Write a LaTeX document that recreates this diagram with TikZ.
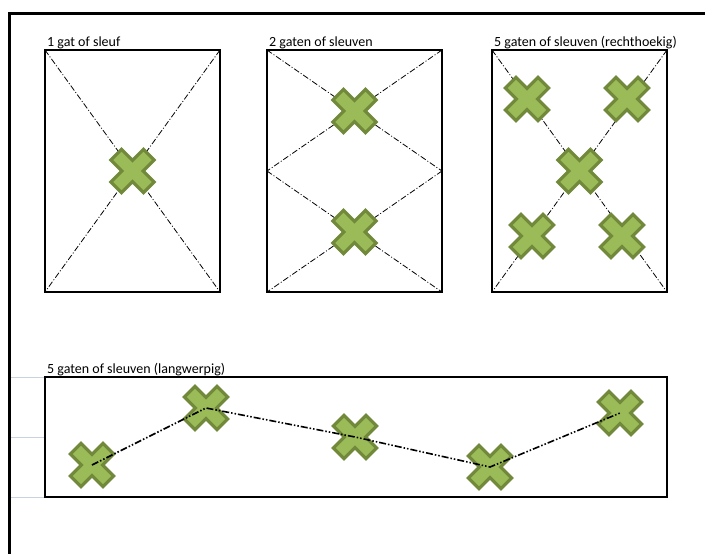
\documentclass[tikz,border=0pt]{standalone}
\usepackage{fontspec}
\setmainfont{Carlito}
\definecolor{xfill}{HTML}{9BBB59}
\definecolor{xline}{HTML}{71893A}
\definecolor{grid}{HTML}{C8D2E0}
\tikzset{
  box/.style={draw=black, line width=2pt, inner sep=0pt, outer sep=0pt, minimum width=175pt, minimum height=242pt},
  longbox/.style={draw=black, line width=2pt, inner sep=0pt, outer sep=0pt, minimum width=622pt, minimum height=120pt},
  diag/.style={line width=0.8pt, dash pattern=on 6pt off 2pt on 1pt off 2pt},
  route/.style={line width=1.6pt, dash pattern=on 7pt off 2pt on 1.5pt off 2pt on 1.5pt off 2pt},
  lbl/.style={anchor=base west, inner sep=0pt, font=\fontsize{14}{16}\selectfont},
  frame/.style={line width=3pt, black},
  gridline/.style={line width=1pt, grid},
  xmark/.pic={
    \begin{scope}[rotate=45]
      \filldraw[fill=xfill, draw=xline, line width=3.2pt, line join=miter]
        (23,7.5) -- (7.5,7.5) -- (7.5,23) -- (-7.5,23) -- (-7.5,7.5) -- (-23,7.5) -- (-23,-7.5)
        -- (-7.5,-7.5) -- (-7.5,-23) -- (7.5,-23) -- (7.5,-7.5) -- (23,-7.5) -- cycle;
    \end{scope}
  }
}
\begin{document}
\begin{tikzpicture}[x=1pt,y=-1pt]
\useasboundingbox (0,0) rectangle (705,554);
% outer frame
\coordinate (f1) at (9.5,13);
\coordinate (f2) at (705,13);
\coordinate (f3) at (9.5,554);
\draw[frame] (f2) -- (f1) -- (f3);
% grid lines
\foreach \yy in {377,437,497} {
  \draw[gridline] (11,\yy) -- (45,\yy);
}
% boxes
\node[box] (b1) at (132.5,171) {};
\node[box] (b2) at (354.5,171) {};
\node[box] (b3) at (579.5,171) {};
\node[longbox] (b4) at (356,437) {};
% labels
\node[lbl] (l1) at ([shift={(2,-4)}]b1.north west) {1 gat of sleuf};
\node[lbl] (l2) at ([shift={(2,-4)}]b2.north west) {2 gaten of sleuven};
\node[lbl] (l3) at ([shift={(2,-4)}]b3.north west) {5 gaten of sleuven (rechthoekig)};
\node[lbl] (l4) at ([shift={(2,-4)}]b4.north west) {5 gaten of sleuven (langwerpig)};
% box 1 diagonals
\draw[diag] (b1.north west) -- (b1.south east);
\draw[diag] (b1.north east) -- (b1.south west);
% box 2 diagonals (two halves)
\coordinate (b2l) at (b2.west);
\coordinate (b2r) at (b2.east);
\draw[diag] (b2.north west) -- (b2r);
\draw[diag] (b2.north east) -- (b2l);
\draw[diag] (b2l) -- (b2.south east);
\draw[diag] (b2r) -- (b2.south west);
% box 3 diagonals
\draw[diag] (b3.north west) -- (b3.south east);
\draw[diag] (b3.north east) -- (b3.south west);
% crosses
\pic at (132.5,171) {xmark};
\pic at (354.5,111) {xmark};
\pic at (354.5,232) {xmark};
\pic at (579.5,171) {xmark};
\pic at (527,99) {xmark};
\pic at (627,99) {xmark};
\pic at (532,236) {xmark};
\pic at (622,236) {xmark};
% long box crosses
\coordinate (p1) at (92,465);
\coordinate (p2) at (206,408);
\coordinate (p3) at (355,437);
\coordinate (p4) at (490,467);
\coordinate (p5) at (620,413);
\foreach \p in {p1,p2,p3,p4,p5} { \pic at (\p) {xmark}; }
\draw[route] (p1) -- (p2) -- (p3) -- (p4) -- (p5);
\end{tikzpicture}
\end{document}
